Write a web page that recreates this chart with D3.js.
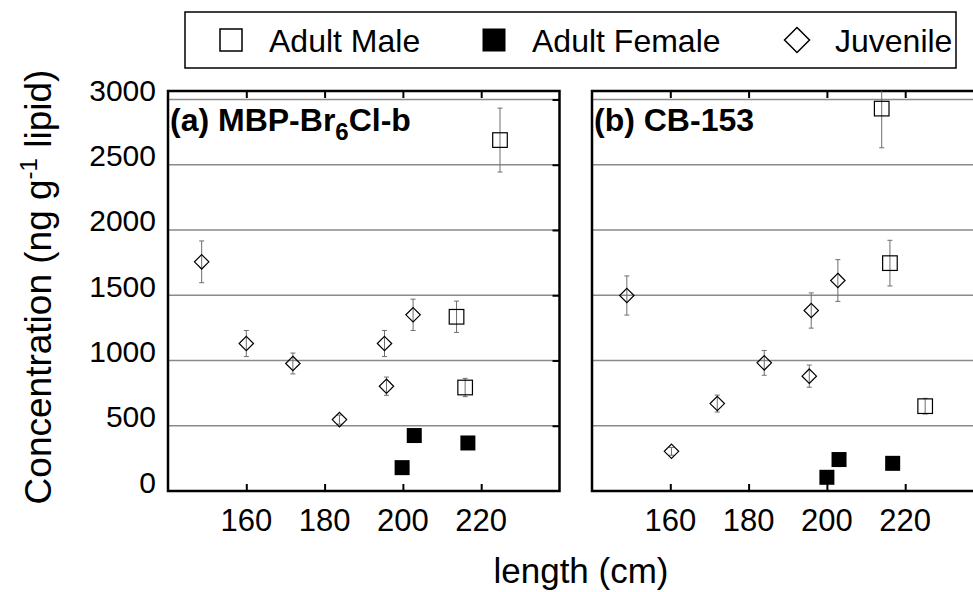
<!DOCTYPE html>
<html lang="en">
    <head>
        <meta charset="utf-8">
        <title>Concentration vs length</title>
        <script type="text/javascript" src="https://d3js.org/d3.v7.min.js"></script>
        <style>
            body {
                margin: 0;
                background: white;
            }

            svg text {
                font-family: "Liberation Sans", Arial, sans-serif;
                fill: black;
            }

            .grid {
                stroke: #8a8a8a;
                stroke-width: 1.3;
            }

            .errBar {
                stroke: #6e6e6e;
                stroke-width: 1;
                fill: none;
            }
        </style>
    </head>
    <body>
        <div id="svgContainer"></div>
        <script type="text/javascript">
            //svg size
            let w = 973;
            let h = 592;

            //axis values
            const xTicks = [160, 180, 200, 220];
            const yTicks = [0, 500, 1000, 1500, 2000, 2500, 3000];
            const xDomain = [140, 240];
            const yMax = 3065;

            //legend
            const groups = ["Adult Male", "Adult Female", "Juvenile"];

            //panel (a) MBP-Br6Cl-b
            const juvLenA = [148.6, 160.0, 171.9, 183.8, 195.3, 195.8, 202.6];
            const juvConcA = [1756, 1130, 977, 547, 1130, 803, 1350];
            const juvErrA = [160, 100, 80, 35, 100, 70, 120];
            const maleLenA = [213.7, 215.9, 224.8];
            const maleConcA = [1335, 793, 2689];
            const maleErrA = [120, 70, 245];
            const femLenA = [199.8, 202.9, 216.6];
            const femConcA = [179, 425, 368];

            //panel (b) CB-153
            const juvLenB = [148.9, 160.3, 172.0, 184.0, 196.0, 195.5, 202.8];
            const juvConcB = [1498, 304, 670, 982, 1383, 880, 1613];
            const juvErrB = [150, 30, 65, 95, 135, 85, 160];
            const maleLenB = [214.0, 216.1, 225.1];
            const maleConcB = [2930, 1746, 650];
            const maleErrB = [300, 175, 60];
            const femLenB = [200.0, 203.1, 216.8];
            const femConcB = [105, 241, 212];

            const zip = (xs, ys, es) => xs.map((x, i) => ({x: x, y: ys[i], e: es ? es[i] : 0}));

            let panels = [
                {id: "a", left: 168, right: 559.5, label: ["(a) MBP-Br", "6", "Cl-b"],
                 juv: zip(juvLenA, juvConcA, juvErrA), male: zip(maleLenA, maleConcA, maleErrA), fem: zip(femLenA, femConcA)},
                {id: "b", left: 592, right: 983.5, label: ["(b) CB-153"],
                 juv: zip(juvLenB, juvConcB, juvErrB), male: zip(maleLenB, maleConcB, maleErrB), fem: zip(femLenB, femConcB)}
            ];

            let plotTop = 91, plotBottom = 491;

            let yScale = d3.scaleLinear()
                            .domain([0, yMax])
                            .range([plotBottom, plotTop]);

            let svg = d3.select("#svgContainer")
                        .append("svg")
                        .attr("width", w)
                        .attr("height", h);

            const diamond = s => `M0,${-s}L${s},0L0,${s}L${-s},0Z`;

            panels.forEach(p => {
                let xScale = d3.scaleLinear()
                                .domain(xDomain)
                                .range([p.left, p.right]);

                let g = svg.append("g").attr("class", "panel-" + p.id);

                g.append("clipPath")
                    .attr("id", "clip-" + p.id)
                    .append("rect")
                    .attr("x", p.left)
                    .attr("y", plotTop)
                    .attr("width", p.right - p.left)
                    .attr("height", plotBottom - plotTop);

                //gridlines
                g.selectAll(".grid")
                    .data(yTicks.filter(d => d > 0))
                    .enter()
                    .append("line")
                    .attr("class", "grid")
                    .attr("x1", p.left)
                    .attr("x2", p.right)
                    .attr("y1", d => yScale(d))
                    .attr("y2", d => yScale(d));

                //inward ticks: bottom, top, right
                g.append("g")
                    .attr("transform", `translate(0, ${plotBottom})`)
                    .call(d3.axisBottom(xScale).tickValues(xTicks).tickSize(-7).tickFormat(""))
                    .call(a => a.select(".domain").remove())
                    .selectAll("line").attr("stroke-width", 2);

                g.append("g")
                    .attr("transform", `translate(0, ${plotTop})`)
                    .call(d3.axisTop(xScale).tickValues(xTicks).tickSize(-7).tickFormat(""))
                    .call(a => a.select(".domain").remove())
                    .selectAll("line").attr("stroke-width", 2);

                g.append("g")
                    .attr("transform", `translate(${p.right}, 0)`)
                    .call(d3.axisRight(yScale).tickValues(yTicks.filter(d => d > 0)).tickSize(-7).tickFormat(""))
                    .call(a => a.select(".domain").remove())
                    .selectAll("line").attr("stroke-width", 2);

                //x tick labels
                g.selectAll(".xLabel")
                    .data(xTicks)
                    .enter()
                    .append("text")
                    .attr("class", "xLabel")
                    .attr("x", d => xScale(d))
                    .attr("y", 531)
                    .attr("text-anchor", "middle")
                    .style("font-size", "31px")
                    .text(d => d);

                //frame
                g.append("rect")
                    .attr("x", p.left)
                    .attr("y", plotTop)
                    .attr("width", p.right - p.left)
                    .attr("height", plotBottom - plotTop)
                    .attr("fill", "none")
                    .attr("stroke", "black")
                    .attr("stroke-width", 2.5);

                let marks = g.append("g").attr("clip-path", `url(#clip-${p.id})`);

                //error bars
                let errs = p.juv.concat(p.male);
                marks.selectAll(".errBar")
                    .data(errs)
                    .enter()
                    .append("path")
                    .attr("class", "errBar")
                    .attr("d", d => {
                        let x = xScale(d.x), y1 = yScale(d.y + d.e), y2 = yScale(d.y - d.e);
                        return `M${x - 2.5},${y1}H${x + 2.5}M${x},${y1}V${y2}M${x - 2.5},${y2}H${x + 2.5}`;
                    });

                //juvenile diamonds
                marks.selectAll(".juv")
                    .data(p.juv)
                    .enter()
                    .append("path")
                    .attr("class", "juv")
                    .attr("transform", d => `translate(${xScale(d.x)}, ${yScale(d.y)})`)
                    .attr("d", diamond(7.2))
                    .attr("fill", "none")
                    .attr("stroke", "black")
                    .attr("stroke-width", 1.2);

                //adult male open squares
                marks.selectAll(".male")
                    .data(p.male)
                    .enter()
                    .append("rect")
                    .attr("class", "male")
                    .attr("x", d => xScale(d.x) - 7.3)
                    .attr("y", d => yScale(d.y) - 7.3)
                    .attr("width", 14.6)
                    .attr("height", 14.6)
                    .attr("fill", "none")
                    .attr("stroke", "black")
                    .attr("stroke-width", 1.2);

                //adult female filled squares
                marks.selectAll(".fem")
                    .data(p.fem)
                    .enter()
                    .append("rect")
                    .attr("class", "fem")
                    .attr("x", d => xScale(d.x) - 7.5)
                    .attr("y", d => yScale(d.y) - 7.5)
                    .attr("width", 15)
                    .attr("height", 15)
                    .attr("fill", "black");

                //panel label
                let lab = g.append("text")
                            .attr("x", p.left + 2)
                            .attr("y", 131)
                            .style("font-size", "32px")
                            .style("font-weight", "bold");
                lab.append("tspan").text(p.label[0]);
                if (p.label.length > 1) {
                    lab.append("tspan").attr("dy", 9).style("font-size", "24px").text(p.label[1]);
                    lab.append("tspan").attr("dy", -9).text(p.label[2]);
                }
            });

            //y tick labels on left panel only
            svg.selectAll(".yLabel")
                .data(yTicks)
                .enter()
                .append("text")
                .attr("class", "yLabel")
                .attr("x", 156)
                .attr("y", d => yScale(d) + 1.5)
                .attr("text-anchor", "end")
                .style("font-size", "30px")
                .text(d => d);

            //y axis title
            let yTitle = svg.append("text")
                            .attr("transform", "translate(51, 287) rotate(-90)")
                            .attr("text-anchor", "middle")
                            .style("font-size", "37px");
            yTitle.append("tspan").text("Concentration (ng g");
            yTitle.append("tspan").attr("dy", -14).style("font-size", "24px").text("-1");
            yTitle.append("tspan").attr("dy", 14).text(" lipid)");

            //x axis title
            svg.append("text")
                .attr("x", 581)
                .attr("y", 583)
                .attr("text-anchor", "middle")
                .style("font-size", "35px")
                .text("length (cm)");

            //legend
            let legend = svg.append("g").attr("class", "legend");
            legend.append("rect")
                .attr("x", 185)
                .attr("y", 12)
                .attr("width", 771)
                .attr("height", 56)
                .attr("fill", "white")
                .attr("stroke", "black")
                .attr("stroke-width", 1.5);

            let legX = d3.scaleOrdinal().domain(groups).range([231, 494, 797]);
            let legY = 40;

            legend.append("rect")
                .attr("x", legX("Adult Male") - 11)
                .attr("y", legY - 11)
                .attr("width", 22)
                .attr("height", 22)
                .attr("fill", "none")
                .attr("stroke", "black")
                .attr("stroke-width", 1.5);

            legend.append("rect")
                .attr("x", legX("Adult Female") - 11.5)
                .attr("y", legY - 11.5)
                .attr("width", 23)
                .attr("height", 23)
                .attr("fill", "black");

            legend.append("path")
                .attr("transform", `translate(${legX("Juvenile")}, ${legY})`)
                .attr("d", diamond(12.5))
                .attr("fill", "none")
                .attr("stroke", "black")
                .attr("stroke-width", 1.5);

            legend.selectAll(".legText")
                .data(groups)
                .enter()
                .append("text")
                .attr("class", "legText")
                .attr("x", d => legX(d) + 38)
                .attr("y", 52)
                .style("font-size", "32px")
                .text(d => d);
        </script>
    </body>
</html>
